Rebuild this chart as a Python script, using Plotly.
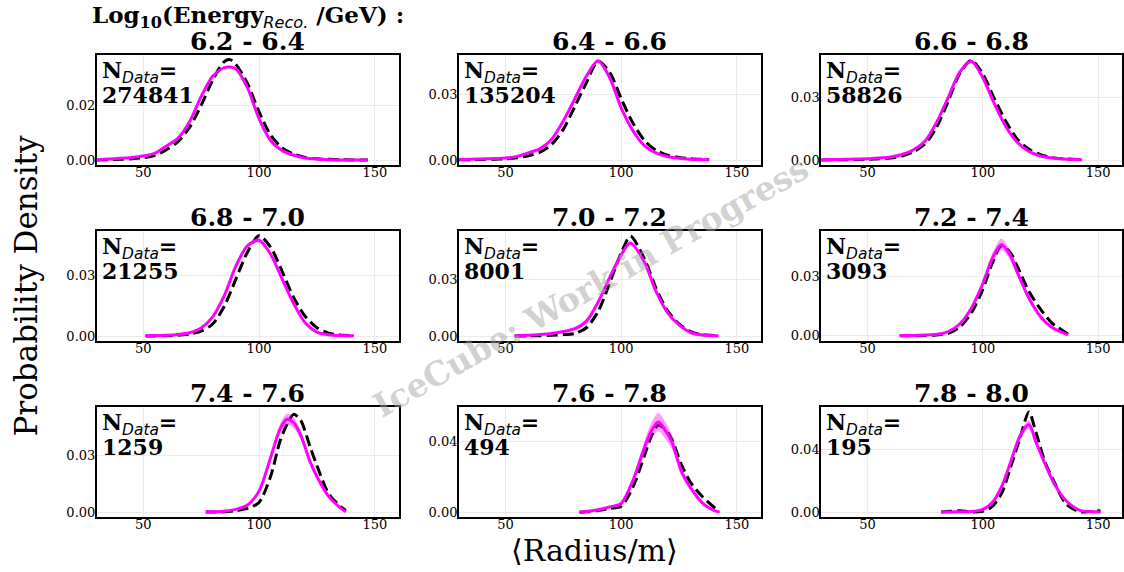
import plotly.graph_objects as go

W, H = 1124, 572

titles = ["6.2 - 6.4", "6.4 - 6.6", "6.6 - 6.8",
          "6.8 - 7.0", "7.0 - 7.2", "7.2 - 7.4",
          "7.4 - 7.6", "7.6 - 7.8", "7.8 - 8.0"]
n_data = [274841, 135204, 58826, 21255, 8001, 3093, 1259, 494, 195]

x_ticks = [50, 100, 150]
y_ticks = [[0, 0.02], [0, 0.03], [0, 0.03],
           [0, 0.03], [0, 0.03], [0, 0.03],
           [0, 0.03], [0, 0.04], [0, 0.04]]

# ---- panel data: radius grid, model (magenta), model band half-width, data (black dashed)
x1 = [30, 35, 40, 45, 50, 55, 60, 65, 70, 75, 80, 85, 87.5, 90, 95, 100, 105, 110, 115, 120, 125, 130, 135, 140, 147]
m1 = [0.0002, 0.0004, 0.0007, 0.0010, 0.0015, 0.0025, 0.0052, 0.0080, 0.0140, 0.0232, 0.0306, 0.0338, 0.0340, 0.0334, 0.0265, 0.0152, 0.0072, 0.0035, 0.0018, 0.0008, 0.0004, 0.0002, 0.0001, 0.0001, 0.0001]
b1 = [0.0001, 0.0001, 0.0001, 0.0001, 0.0001, 0.0001, 0.0001, 0.0001, 0.0001, 0.0002, 0.0002, 0.0002, 0.0002, 0.0002, 0.0002, 0.0001, 0.0001, 0.0001, 0.0001, 0.0001, 0.0001, 0.0001, 0.0001, 0.0001, 0.0001]
d1 = [0.0001, 0.0002, 0.0003, 0.0005, 0.0009, 0.0018, 0.0038, 0.0068, 0.0120, 0.0200, 0.0292, 0.0360, 0.0367, 0.0350, 0.0280, 0.0177, 0.0092, 0.0045, 0.0022, 0.0010, 0.0005, 0.0003, 0.0002, 0.0001, 0.0001]

x2 = [30, 35, 40, 45, 50, 55, 60, 65, 70, 75, 80, 85, 90, 95, 100, 105, 110, 115, 120, 125, 130, 138]
m2 = [0.0003, 0.0004, 0.0005, 0.0007, 0.0009, 0.0017, 0.0033, 0.0052, 0.0095, 0.0178, 0.0280, 0.0383, 0.0452, 0.0376, 0.0238, 0.0135, 0.0066, 0.0033, 0.0016, 0.0008, 0.0004, 0.0002]
b2 = [0.0001, 0.0001, 0.0001, 0.0001, 0.0001, 0.0001, 0.0001, 0.0001, 0.0002, 0.0002, 0.0002, 0.0003, 0.0003, 0.0003, 0.0002, 0.0002, 0.0001, 0.0001, 0.0001, 0.0001, 0.0001, 0.0001]
d2 = [0.0001, 0.0002, 0.0003, 0.0004, 0.0006, 0.0011, 0.0020, 0.0036, 0.0072, 0.0140, 0.0245, 0.0353, 0.0450, 0.0400, 0.0280, 0.0170, 0.0090, 0.0045, 0.0022, 0.0012, 0.0006, 0.0002]

x3 = [30, 35, 40, 45, 50, 55, 60, 65, 70, 75, 80, 85, 90, 95, 100, 105, 110, 115, 120, 125, 130, 135, 143]
m3 = [0.0002, 0.0003, 0.0004, 0.0005, 0.0006, 0.0010, 0.0015, 0.0027, 0.0050, 0.0092, 0.0182, 0.0300, 0.0422, 0.0474, 0.0395, 0.0270, 0.0160, 0.0085, 0.0042, 0.0020, 0.0010, 0.0005, 0.0002]
b3 = [0.0001, 0.0001, 0.0001, 0.0001, 0.0001, 0.0001, 0.0001, 0.0001, 0.0001, 0.0002, 0.0002, 0.0003, 0.0004, 0.0004, 0.0004, 0.0003, 0.0002, 0.0002, 0.0001, 0.0001, 0.0001, 0.0001, 0.0001]
d3 = [0.0001, 0.0002, 0.0002, 0.0003, 0.0004, 0.0006, 0.0010, 0.0020, 0.0040, 0.0078, 0.0158, 0.0282, 0.0415, 0.0478, 0.0412, 0.0295, 0.0185, 0.0100, 0.0052, 0.0026, 0.0012, 0.0006, 0.0002]

x4 = [51, 55, 60, 65, 70, 75, 80, 85, 90, 95, 100, 105, 110, 115, 120, 125, 130, 135, 141]
m4 = [0.0002, 0.0003, 0.0004, 0.0008, 0.0017, 0.0040, 0.0095, 0.0200, 0.0346, 0.0447, 0.0474, 0.0405, 0.0282, 0.0160, 0.0065, 0.0020, 0.0007, 0.0003, 0.0002]
b4 = [0.0001, 0.0001, 0.0001, 0.0001, 0.0002, 0.0003, 0.0004, 0.0006, 0.0009, 0.0011, 0.0011, 0.0010, 0.0008, 0.0006, 0.0004, 0.0002, 0.0001, 0.0001, 0.0001]
d4 = [0.0001, 0.0001, 0.0002, 0.0005, 0.0010, 0.0025, 0.0060, 0.0148, 0.0282, 0.0415, 0.0497, 0.0440, 0.0320, 0.0190, 0.0097, 0.0042, 0.0015, 0.0006, 0.0003]

x5 = [54, 60, 65, 70, 75, 80, 85, 90, 95, 100, 104, 110, 115, 120, 125, 130, 135, 142]
m5 = [0.0003, 0.0005, 0.0009, 0.0015, 0.0025, 0.0040, 0.0080, 0.0180, 0.0310, 0.0430, 0.0492, 0.0392, 0.0238, 0.0125, 0.0060, 0.0020, 0.0007, 0.0003]
b5 = [0.0001, 0.0001, 0.0001, 0.0002, 0.0002, 0.0003, 0.0004, 0.0005, 0.0007, 0.0008, 0.0008, 0.0008, 0.0006, 0.0004, 0.0003, 0.0002, 0.0001, 0.0001]
d5 = [0.0001, 0.0002, 0.0003, 0.0005, 0.0009, 0.0015, 0.0045, 0.0130, 0.0280, 0.0440, 0.0528, 0.0410, 0.0255, 0.0135, 0.0065, 0.0025, 0.0009, 0.0004]

x6 = [64, 70, 75, 80, 85, 90, 95, 100, 104, 108, 112, 115, 120, 125, 130, 137]
m6 = [0.0002, 0.0002, 0.0004, 0.0008, 0.0022, 0.0060, 0.0140, 0.0265, 0.0390, 0.0463, 0.0405, 0.0320, 0.0190, 0.0097, 0.0042, 0.0005]
b6 = [0.0001, 0.0001, 0.0001, 0.0002, 0.0003, 0.0005, 0.0009, 0.0015, 0.0024, 0.0030, 0.0025, 0.0018, 0.0011, 0.0006, 0.0003, 0.0001]
d6 = [0.0001, 0.0001, 0.0002, 0.0005, 0.0013, 0.0045, 0.0116, 0.0235, 0.0365, 0.0455, 0.0420, 0.0350, 0.0225, 0.0135, 0.0065, 0.0008]

x7 = [77, 80, 85, 90, 95, 100, 105, 109, 112, 115, 118, 122, 125, 130, 135, 137.5]
m7 = [0.0002, 0.0002, 0.0005, 0.0015, 0.0038, 0.0112, 0.0290, 0.0440, 0.0494, 0.0475, 0.0410, 0.0270, 0.0190, 0.0085, 0.0024, 0.0002]
b7 = [0.0001, 0.0001, 0.0001, 0.0002, 0.0004, 0.0008, 0.0016, 0.0026, 0.0030, 0.0029, 0.0024, 0.0016, 0.0011, 0.0006, 0.0003, 0.0001]
d7 = [0.0001, 0.0001, 0.0002, 0.0008, 0.0020, 0.0052, 0.0190, 0.0375, 0.0465, 0.0520, 0.0488, 0.0350, 0.0248, 0.0100, 0.0032, 0.0009]

x8 = [82, 85, 90, 95, 100, 105, 110, 113, 116, 119, 122, 126, 130, 135, 140, 142.5]
m8 = [0.0002, 0.0005, 0.0015, 0.0030, 0.0050, 0.0178, 0.0365, 0.0460, 0.0511, 0.0465, 0.0395, 0.0232, 0.0138, 0.0054, 0.0011, 0.0002]
b8 = [0.0001, 0.0001, 0.0002, 0.0004, 0.0007, 0.0015, 0.0035, 0.0045, 0.0052, 0.0048, 0.0040, 0.0024, 0.0014, 0.0006, 0.0002, 0.0001]
d8 = [0.0001, 0.0003, 0.0010, 0.0022, 0.0035, 0.0141, 0.0320, 0.0430, 0.0492, 0.0470, 0.0410, 0.0270, 0.0168, 0.0090, 0.0030, 0.0009]

x9 = [82, 86, 90, 95, 100, 104, 108, 112, 116, 120, 123, 127, 131, 136, 142, 146, 151]
m9 = [0.0002, 0.0002, 0.0003, 0.0004, 0.0018, 0.0060, 0.0158, 0.0316, 0.0480, 0.0556, 0.0445, 0.0305, 0.0179, 0.0074, 0.0012, 0.0004, 0.0002]
b9 = [0.0001, 0.0001, 0.0001, 0.0001, 0.0002, 0.0004, 0.0008, 0.0015, 0.0022, 0.0028, 0.0022, 0.0015, 0.0009, 0.0004, 0.0001, 0.0001, 0.0001]
d9 = [0.0001, 0.0006, 0.0010, 0.0002, 0.0006, 0.0035, 0.0116, 0.0284, 0.0465, 0.0636, 0.0505, 0.0316, 0.0190, 0.0053, 0.0003, 0.0004, 0.0010]

xs = [x1, x2, x3, x4, x5, x6, x7, x8, x9]
ms = [m1, m2, m3, m4, m5, m6, m7, m8, m9]
bs = [b1, b2, b3, b4, b5, b6, b7, b8, b9]
ds = [d1, d2, d3, d4, d5, d6, d7, d8, d9]

x_range = [30, 160.3]
y_ranges = [[-0.0018, 0.0385], [-0.0023, 0.0480], [-0.0024, 0.0505],
            [-0.0025, 0.0521], [-0.0026, 0.0557], [-0.0027, 0.0532],
            [-0.0027, 0.0560], [-0.0028, 0.0597], [-0.0032, 0.0668]]

# ---- layout geometry (pixels)
col_px = [(97, 399), (459.5, 761.5), (822, 1123)]
row_px = [(55, 166), (232, 343), (409, 520)]

SERIF = "DejaVu Serif"
MAGENTA = "#ff00ff"
BAND = "rgba(255,0,255,0.38)"
GRID = "#ebebeb"

fig = go.Figure()
layout = dict(
    width=W, height=H, margin=dict(l=0, r=0, t=0, b=0),
    paper_bgcolor="white", plot_bgcolor="white", showlegend=False,
)
annotations = []

for i in range(9):
    r, c = divmod(i, 3)
    ax = "" if i == 0 else str(i + 1)
    xa, ya = "x" + ax, "y" + ax
    x, m, b, d = xs[i], ms[i], bs[i], ds[i]
    lo = [mi - bi for mi, bi in zip(m, b)]
    hi = [mi + bi for mi, bi in zip(m, b)]

    fig.add_trace(go.Scatter(x=x, y=d, mode="lines", xaxis=xa, yaxis=ya,
                             line=dict(color="black", width=3, dash="11px,5px", shape="spline", smoothing=0.8),
                             hoverinfo="skip"))
    fig.add_trace(go.Scatter(x=x, y=lo, mode="lines", xaxis=xa, yaxis=ya,
                             line=dict(width=0, shape="spline", smoothing=0.8), hoverinfo="skip"))
    fig.add_trace(go.Scatter(x=x, y=hi, mode="lines", xaxis=xa, yaxis=ya, fill="tonexty",
                             fillcolor=BAND, line=dict(width=0, shape="spline", smoothing=0.8),
                             hoverinfo="skip"))
    fig.add_trace(go.Scatter(x=x, y=m, mode="lines", xaxis=xa, yaxis=ya,
                             line=dict(color=MAGENTA, width=3, shape="spline", smoothing=0.8),
                             hoverinfo="skip"))

    x0, x1p = col_px[c]
    y0, y1p = row_px[r]
    layout["xaxis" + ax] = dict(
        domain=[x0 / W, x1p / W], range=x_range, anchor=ya,
        tickvals=x_ticks, ticktext=[str(t) for t in x_ticks],
        showgrid=True, gridcolor=GRID, gridwidth=1, zeroline=False,
        showline=True, linecolor="black", linewidth=2, mirror=True,
        ticks="", ticklabelstandoff=-6,
        tickfont=dict(family=SERIF, size=13, color="black"),
    )
    layout["yaxis" + ax] = dict(
        domain=[1 - y1p / H, 1 - y0 / H], range=y_ranges[i], anchor=xa,
        tickvals=y_ticks[i], tickformat=".2f",
        showgrid=True, gridcolor=GRID, gridwidth=1, zeroline=False,
        showline=True, linecolor="black", linewidth=2, mirror=True,
        ticks="", ticklabelstandoff=-3,
        tickfont=dict(family=SERIF, size=13, color="black"),
    )

    # panel title
    annotations.append(dict(
        text="<b>" + titles[i] + "</b>", xref="paper", yref="paper",
        x=(x0 + x1p) / 2 / W, y=1 - (y0 - 13) / H, xanchor="center", yanchor="middle",
        showarrow=False, font=dict(family=SERIF, size=25, color="black"),
    ))
    # N_Data label
    annotations.append(dict(
        text="<b>N<sub><span style=\"font-family:'DejaVu Sans';font-weight:normal;font-style:italic\">Data</span></sub>=</b>",
        xref="paper", yref="paper", x=(x0 + 3) / W, y=1 - (y0 + 17) / H,
        xanchor="left", yanchor="middle", showarrow=False,
        font=dict(family=SERIF, size=22, color="black"),
    ))
    annotations.append(dict(
        text="<b>" + str(n_data[i]) + "</b>",
        xref="paper", yref="paper", x=(x0 + 3) / W, y=1 - (y0 + 40) / H,
        xanchor="left", yanchor="middle", showarrow=False,
        font=dict(family=SERIF, size=22, color="black"),
    ))

# super-title line over first panel
annotations.append(dict(
    text="<b>Log<sub>10</sub>(Energy<sub><span style=\"font-family:'DejaVu Sans';font-weight:normal;font-style:italic\">Reco.</span></sub> /GeV) :</b>",
    xref="paper", yref="paper", x=248 / W, y=1 - 17 / H, xanchor="center", yanchor="middle",
    showarrow=False, font=dict(family=SERIF, size=23, color="black"),
))
# axis titles
annotations.append(dict(
    text="Probability Density", xref="paper", yref="paper", x=27 / W, y=1 - 287 / H,
    xanchor="center", yanchor="middle", textangle=-90, showarrow=False,
    font=dict(family=SERIF, size=31, color="black"),
))
annotations.append(dict(
    text="\u27e8Radius/m\u27e9", xref="paper", yref="paper", x=595 / W, y=1 - 553 / H,
    xanchor="center", yanchor="middle", showarrow=False,
    font=dict(family=SERIF, size=30, color="black"),
))
# watermark
annotations.append(dict(
    text="<b>IceCube: Work in Progress</b>", xref="paper", yref="paper", x=592 / W, y=1 - 288 / H,
    xanchor="center", yanchor="middle", textangle=-29.5, showarrow=False,
    font=dict(family=SERIF, size=33, color="rgba(165,165,165,0.5)"),
))

layout["annotations"] = annotations
fig.update_layout(**layout)
fig.write_html("out.html")
